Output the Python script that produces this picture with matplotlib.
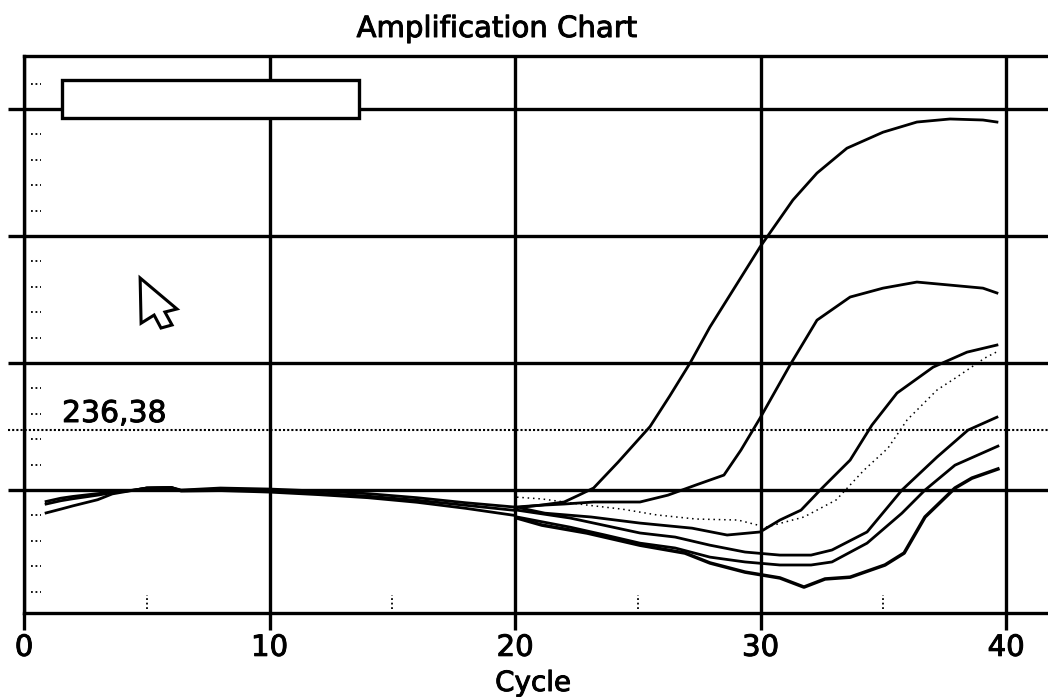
import matplotlib
matplotlib.use("Agg")
import matplotlib.pyplot as plt
import matplotlib.patheffects as pe
from matplotlib.patches import Polygon, Rectangle

W, H = 1048, 697

# curves, cycle and fluorescence
early_cycles = [0.9, 1.5, 2, 3, 3.6, 4.5, 5, 6, 6.4, 8, 10, 12, 14, 16, 18, 20]
early_upper = [-45, -32, -25, -14, -8, 0, 8, 10, 0, 8, 4, -4, -14, -30, -50, -67]
early_middle = [-55, -42, -34, -20, -10, 0, 8, 10, -2, 3, -2, -12, -24, -40, -60, -80]
early_lower = [-90, -75, -62, -38, -15, 0, 8, 10, -4, -2, -8, -18, -30, -48, -72, -100]

a_x = [20, 21, 22, 22.6, 23.2, 24.2, 25.5, 26.3, 27.13, 27.94, 28.88, 29.98, 31.32, 32.3, 33.52, 34.99, 36.37, 37.72, 39.06, 39.63]
a_y = [-67, -60, -47, -20, 8, 110, 250, 370, 500, 642, 787, 957, 1142, 1248, 1346, 1409, 1449, 1461, 1457, 1449]
b_x = [20, 21, 22, 23.2, 25.09, 26.23, 27.37, 28.51, 29.2, 29.98, 31.2, 32.3, 33.65, 34.99, 36.37, 37.72, 39.06, 39.63]
b_y = [-70, -60, -55, -47, -47, -20, 20, 59, 157, 283, 492, 669, 760, 795, 819, 807, 795, 776]
c_x = [20.24, 21.22, 23.1, 25.09, 27.21, 28.64, 29.98, 30.79, 31.65, 32.51, 33.65, 34.54, 35.56, 37.03, 38.41, 39.63]
c_y = [-71, -91, -106, -130, -150, -177, -165, -118, -79, 8, 118, 256, 382, 484, 543, 571]
dotted_x = [20.08, 21.1, 22.93, 24.36, 25.78, 27.37, 29.08, 30.22, 31.77, 33.08, 34.22, 35.19, 35.97, 37.19, 38.0, 39.14, 39.6]
dotted_y = [-28, -35, -59, -75, -98, -114, -118, -146, -106, -39, 79, 165, 276, 394, 445, 520, 543]
d_x = [20.08, 22.24, 25.09, 26.52, 27.94, 29.37, 30.79, 32.06, 32.91, 34.34, 35.76, 37.19, 38.45, 39.63]
d_y = [-79, -110, -169, -185, -217, -244, -256, -256, -236, -165, 0, 130, 236, 287]
e_x = [20.08, 22.24, 23.67, 25.09, 26.52, 27.94, 29.37, 30.79, 32.06, 32.91, 34.34, 35.76, 36.7, 37.92, 39.67]
e_y = [-106, -146, -177, -209, -228, -264, -283, -295, -295, -283, -209, -91, 0, 98, 173]
f_x = [20.08, 21.1, 22.93, 25.09, 26.92, 27.94, 29.37, 30.79, 31.77, 32.63, 33.65, 35.07, 35.85, 36.7, 37.92, 38.61, 39.67]
f_y = [-110, -138, -169, -217, -248, -287, -323, -346, -382, -350, -343, -295, -248, -106, 8, 47, 83]

x_ticks = [0, 10, 20, 30, 40]
y_grid = [0, 500, 1000, 1500]
y_minor = [-400, -300, -200, -100, 100, 200, 300, 400, 600, 700, 800, 900, 1100, 1200, 1300, 1400, 1600]
x_minor = [5, 15, 25, 35]
threshold = 236.38
threshold_label = "236,38"

heavy = [pe.withStroke(linewidth=0.7, foreground="black")]

fig = plt.figure(figsize=(W / 100, H / 100), dpi=100)
ax = fig.add_axes([24 / W, 1 - 613 / H, 1024 / W, 557 / H])
ax.set_xlim(0, 41.71)
ax.set_ylim(-484, 1709)

ax.spines["right"].set_visible(False)
for side in ["left", "top", "bottom"]:
    ax.spines[side].set_linewidth(2.4)

ax.set_xticks(x_ticks)
ax.set_yticks(y_grid)
ax.set_yticklabels([])
ax.tick_params(axis="x", length=12, width=2.4, labelsize=21, pad=3)
ax.tick_params(axis="y", length=11.5, width=2.4)
for lab in ax.get_xticklabels():
    lab.set_path_effects(heavy)
ax.grid(True, color="black", linewidth=2.4)
ax.set_axisbelow(True)

# dotted minor marks along the left and bottom edge
ax.hlines(y_minor, 0.3, 0.7, color="black", linewidth=1.3, linestyles=(0, (1, 1.5)))
ax.vlines(x_minor, -470, -415, color="black", linewidth=1.3, linestyles=(0, (1, 1.5)))

ax.axhline(threshold, xmin=-16 / 1024, color="black", linewidth=1.5, linestyle=(0, (1, 1)), clip_on=False)

ax.plot(early_cycles, early_upper, color="black", linewidth=2.0)
ax.plot(early_cycles, early_middle, color="black", linewidth=2.0)
ax.plot(early_cycles, early_lower, color="black", linewidth=2.0)
for xs, ys in [(a_x, a_y), (b_x, b_y), (c_x, c_y), (d_x, d_y), (e_x, e_y)]:
    ax.plot(xs, ys, color="black", linewidth=2.0)
ax.plot(f_x, f_y, color="black", linewidth=2.5)
ax.plot(dotted_x, dotted_y, color="black", linewidth=1.1, linestyle=(0, (1, 2.5)))

# empty legend box
ax.add_patch(Rectangle((1.55, 1465), 12.1, 149, facecolor="white", edgecolor="black", linewidth=2.4, zorder=5))

# mouse pointer left in the screenshot
pointer = [(4.73, 835), (6.23, 713), (5.74, 701), (6.03, 650), (5.58, 638), (5.30, 689), (4.77, 657)]
ax.add_patch(Polygon(pointer, closed=True, facecolor="white", edgecolor="black", linewidth=2.2, zorder=5))

ax.text(1.55, 268, threshold_label, fontsize=21.5, ha="left", va="baseline", color="black", path_effects=heavy)
fig.text(533 / W, 1 - 683 / H, "Cycle", fontsize=20, ha="center", va="center", color="black", path_effects=heavy)
fig.text(497 / W, 1 - 29 / H, "Amplification Chart", fontsize=21, ha="center", va="center", color="black", path_effects=heavy)

plt.savefig("out.png", dpi=100)
